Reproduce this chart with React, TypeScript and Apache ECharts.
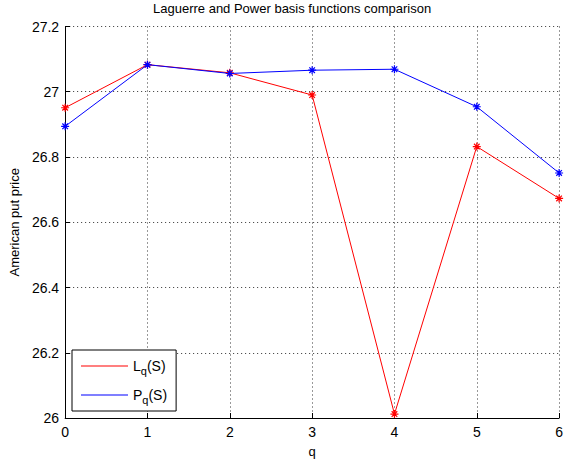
import React, { useEffect, useRef } from "react";
import * as echarts from "echarts";

const qValues = ["0", "1", "2", "3", "4", "5", "6"];
const laguerre = [26.951, 27.083, 27.058, 26.99, 26.012, 26.832, 26.673];
const power = [26.894, 27.083, 27.056, 27.066, 27.069, 26.954, 26.751];
const yTicks = { min: 26, max: 27.2, interval: 0.2 };

const FONT = "'Liberation Sans', Arial, sans-serif";
const STAR = "path://M5,0L5,10M0,5L10,5M1.5,1.5L8.5,8.5M8.5,1.5L1.5,8.5";

export default function App() {
  const ref = useRef<HTMLDivElement>(null);
  useEffect(() => {
    if (!ref.current) return;
    const chart = echarts.init(ref.current, null, { renderer: "svg" });
    const mk = (name: string, data: number[], color: string) => ({
      name,
      type: "line",
      data: data.map((v, i) => [Number(qValues[i]), v]),
      symbol: STAR,
      symbolSize: 8,
      showSymbol: true,
      lineStyle: { color, width: 1 },
      itemStyle: { color, borderColor: color, borderWidth: 1.2 },
      emphasis: { disabled: true },
    });
    chart.setOption({
      animation: false,
      backgroundColor: "#ffffff",
      textStyle: { fontFamily: FONT },
      title: {
        text: "Laguerre and Power basis functions comparison",
        left: 153,
        top: 2,
        padding: 0,
        textStyle: { fontFamily: FONT, fontSize: 13, fontWeight: "normal", color: "#000" },
      },
      legend: {
        left: 72,
        top: 350,
        orient: "vertical",
        backgroundColor: "#fff",
        borderColor: "#000",
        borderWidth: 1,
        borderRadius: 0,
        padding: [9, 9, 6, 9],
        itemGap: 12,
        itemWidth: 47,
        itemHeight: 1,
        icon: "rect",
        itemStyle: { borderWidth: 0 },
        data: ["L", "P"],
        formatter: (name: string) => `{a|${name}}{s|q}{a|(S)}`,
        textStyle: {
          fontFamily: FONT,
          color: "#000",
          rich: {
            a: { fontSize: 14, fontFamily: FONT, color: "#000", lineHeight: 20, verticalAlign: "middle" },
            s: { fontSize: 11, fontFamily: FONT, color: "#000", lineHeight: 20, verticalAlign: "bottom" },
          },
        },
      },
      grid: { left: 63, right: 4, top: 26.5, bottom: 51, containLabel: false },
      xAxis: {
        type: "value",
        min: 0,
        max: 6,
        interval: 1,
        name: "q",
        nameLocation: "middle",
        nameGap: 27,
        nameTextStyle: { fontFamily: FONT, fontSize: 13, color: "#000" },
        axisLine: { show: true, onZero: false, lineStyle: { color: "#000", width: 1 } },
        axisTick: { show: true, inside: true, length: 5, lineStyle: { color: "#000" } },
        axisLabel: { fontFamily: FONT, fontSize: 14, color: "#000", margin: 7 },
        splitLine: { show: true, lineStyle: { color: "#333", type: [1, 3], width: 1 } },
      },
      yAxis: {
        type: "value",
        min: yTicks.min,
        max: yTicks.max,
        interval: yTicks.interval,
        name: "American put price",
        nameLocation: "middle",
        nameGap: 38,
        nameTextStyle: { fontFamily: FONT, fontSize: 13, color: "#000" },
        axisLine: { show: true, onZero: false, lineStyle: { color: "#000", width: 1 } },
        axisTick: { show: true, inside: true, length: 5, lineStyle: { color: "#000" } },
        axisLabel: {
          fontFamily: FONT,
          fontSize: 14,
          color: "#000",
          margin: 6,
          formatter: (v: number) => String(parseFloat(v.toFixed(1))),
        },
        splitLine: { show: true, lineStyle: { color: "#333", type: [1, 3], width: 1 } },
      },
      series: [mk("L", laguerre, "#ff0000"), mk("P", power, "#0000ff")],
    });
    return () => chart.dispose();
  }, []);
  return (
    <div
      ref={ref}
      style={{ position: "fixed", left: 0, top: 0, width: 566, height: 469, background: "#fff" }}
    />
  );
}
